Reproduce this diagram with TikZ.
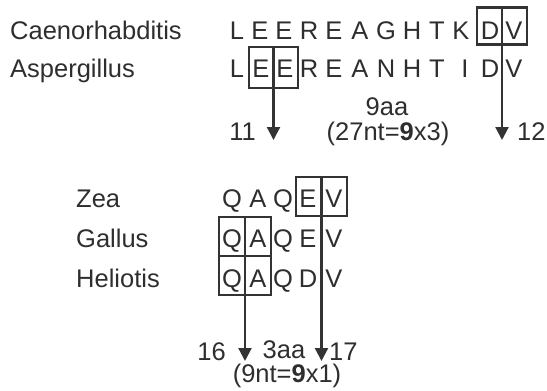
\documentclass[tikz,border=0pt]{standalone}
\usepackage{fontspec}
\setmainfont{Liberation Sans}
\usetikzlibrary{arrows.meta}
\definecolor{ink}{HTML}{2E2E2E}
\definecolor{linec}{HTML}{333333}
\begin{document}
\begin{tikzpicture}[x=1pt,y=-1pt,
  txt/.style={font=\fontsize{25.5}{30}\selectfont, text=ink, inner sep=0pt},
  lbl/.style={txt, anchor=base west},
  aa/.style={txt, anchor=base},
  boxc/.style={draw=linec, line width=2.2pt, inner sep=0pt, rectangle},
  ln/.style={draw=linec, line width=2.2pt},
  arr/.style={ln, -{Triangle[width=13pt,length=13pt]}}]
\path[use as bounding box] (0,0) rectangle (547,391);

% species names
\node[lbl] (caeno) at (10,39) {Caenorhabditis};
\node[lbl] (asper) at (10,77) {Aspergillus};
\node[lbl] (zea) at (76,207) {Zea};
\node[lbl] (gallus) at (76,247) {Gallus};
\node[lbl] (helio) at (76,287) {Heliotis};

% sequences, top
\foreach \c/\x [count=\i] in {L/237,E/260,E/284,R/309,E/334,A/360,G/386,H/412,T/437,K/461,D/490,V/514}
  \node[aa] (ra\i) at (\x,39) {\c};
\foreach \c/\x [count=\i] in {L/237,E/261,E/285,R/309,E/334,A/360,N/386,H/412,T/437,I/465,D/490,V/514}
  \node[aa] (rb\i) at (\x,77) {\c};

% sequences, bottom
\foreach \c/\x [count=\i] in {Q/232,A/258,Q/283,E/308,V/334}
  \node[aa] (rz\i) at (\x,207) {\c};
\foreach \c/\x [count=\i] in {Q/232,A/258,Q/283,E/308,V/334}
  \node[aa] (rg\i) at (\x,247) {\c};
\foreach \c/\x [count=\i] in {Q/232,A/258,Q/283,D/308,V/334}
  \node[aa] (rh\i) at (\x,287) {\c};

% boxes top
\node[boxc, minimum width=50pt, minimum height=37pt] (bDV) at (502,26) {};
\draw[ln] (bDV.north) -- (bDV.south);
\node[boxc, minimum width=49pt, minimum height=41pt] (bEE) at (273.5,67.5) {};
\draw[ln] (bEE.north) -- (bEE.south);

\coordinate (t11) at (273.5,140);
\coordinate (t12) at (502,140);
\draw[arr] (bEE.south) -- (t11);
\draw[arr] (bDV.south) -- (t12);
\node[txt, anchor=base east] (n11) at (256,140) {11};
\node[txt, anchor=base west] (n12) at (517,140) {12};
\node[txt, anchor=base] (aa9) at (387,115) {9aa};
\node[txt, anchor=base] (nt27) at (388,140) {(27nt=\textbf{9}x3)};

% boxes bottom
\node[boxc, minimum width=51pt, minimum height=39pt] (bEV) at (321.5,196.5) {};
\draw[ln] (bEV.north) -- (bEV.south);
\node[boxc, minimum width=52pt, minimum height=78pt] (bQA) at (245,256) {};
\draw[ln] (bQA.north) -- (bQA.south);
\draw[ln] (bQA.west) -- (bQA.east);

\coordinate (t16) at (245,361);
\coordinate (t17) at (321.5,361);
\draw[arr] (bQA.south) -- (t16);
\draw[arr] (bEV.south) -- (t17);
\node[txt, anchor=base east] (n16) at (226,360) {16};
\node[txt, anchor=base west] (n17) at (329,360) {17};
\node[txt, anchor=base] (aa3) at (284,358) {3aa};
\node[txt, anchor=base] (nt9) at (287,382) {(9nt=\textbf{9}x1)};
\end{tikzpicture}
\end{document}
